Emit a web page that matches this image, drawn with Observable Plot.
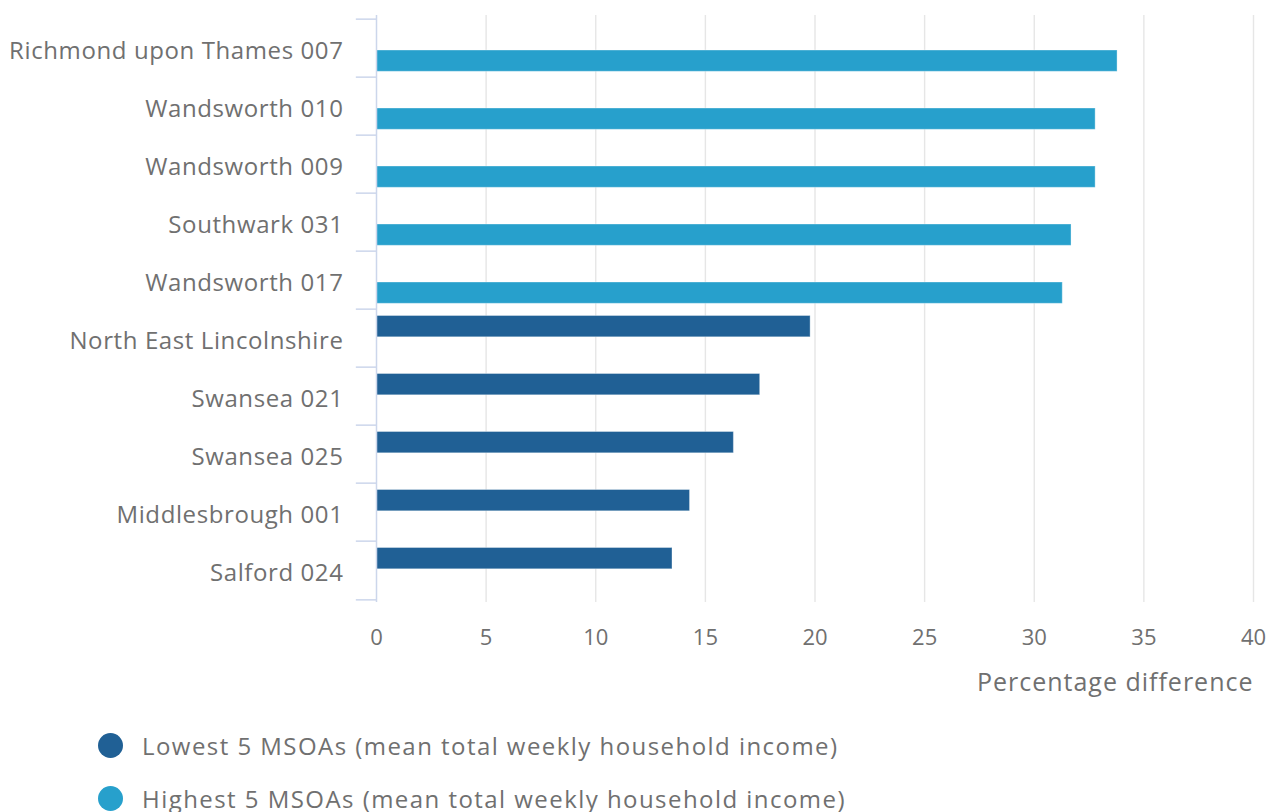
<!DOCTYPE html>
<html>
<head>
<meta charset="utf-8">
<script src="https://cdn.jsdelivr.net/npm/d3@7"></script>
<script src="https://cdn.jsdelivr.net/npm/@observablehq/plot@0.6"></script>
<style>
  html, body { margin: 0; padding: 0; background: #fff; }
  body { width: 1267px; height: 812px; overflow: hidden; font-family: "Open Sans", sans-serif; }
  #legend { position: absolute; left: 98px; top: 727px; font-size: 24px; letter-spacing: 1.45px; color: #707070; }
  .item { display: flex; align-items: center; height: 36px; margin-bottom: 17px; white-space: nowrap; }
  .sw { width: 25px; height: 25px; border-radius: 50%; margin-right: 19px; flex: none; }
  svg g[aria-label="y-axis tick label"] text { letter-spacing: 0.6px; }
  svg g[aria-label="text"] text { letter-spacing: 1px; }
</style>
</head>
<body>
<div id="chart"></div>
<div id="legend"></div>
<script>
const categories = [
  "Richmond upon Thames 007", "Wandsworth 010", "Wandsworth 009", "Southwark 031", "Wandsworth 017",
  "North East Lincolnshire", "Swansea 021", "Swansea 025", "Middlesbrough 001", "Salford 024"
];
const values = [33.8, 32.8, 32.8, 31.7, 31.3, 19.8, 17.5, 16.3, 14.3, 13.5];
const groups = ["Highest", "Highest", "Highest", "Highest", "Highest", "Lowest", "Lowest", "Lowest", "Lowest", "Lowest"];
const seriesNames = ["Lowest 5 MSOAs (mean total weekly household income)", "Highest 5 MSOAs (mean total weekly household income)"];
const seriesKeys = ["Lowest", "Highest"];
const seriesColors = ["#206095", "#27a0cc"];
const xTicks = [0, 5, 10, 15, 20, 25, 30, 35, 40];
const xTitle = "Percentage difference";

const rows = categories.map((c, i) => ({category: c, value: values[i], group: groups[i]}));

const W = 1267, H = 705;
const mTop = 15, mBottom = 103;
const step = (H - mTop - mBottom) / categories.length;
const textColor = "#707070";

const plot = Plot.plot({
  width: W,
  height: H,
  marginLeft: 376,
  marginRight: 14,
  marginTop: mTop,
  marginBottom: mBottom,
  style: {fontFamily: "'Open Sans', sans-serif", fontSize: "23px", color: textColor, background: "#fff"},
  x: {domain: [0, 40], ticks: xTicks},
  y: {domain: categories, padding: 0},
  color: {domain: seriesKeys, range: seriesColors},
  marks: [
    Plot.gridX(xTicks.filter(t => t > 0), {stroke: "#e6e6e6", strokeOpacity: 1, strokeWidth: 1.4}),
    Plot.barX(rows.filter(d => d.group === "Lowest"), {
      x: "value", y: "category", fill: "group",
      insetTop: 6.5, insetBottom: step - 28.5,
      stroke: "#fff", strokeOpacity: 0.35, strokeWidth: 1
    }),
    Plot.barX(rows.filter(d => d.group === "Highest"), {
      x: "value", y: "category", fill: "group",
      insetTop: 31, insetBottom: step - 53,
      stroke: "#fff", strokeOpacity: 0.35, strokeWidth: 1
    }),
    Plot.ruleX([0], {stroke: "#ccd6eb", strokeWidth: 1.5}),
    Plot.ruleY(categories, {y: d => d, x1: -0.92, x2: 0, dy: -step / 2, stroke: "#ccd6eb", strokeWidth: 1.5}),
    Plot.ruleY(categories.slice(-1), {y: d => d, x1: -0.92, x2: 0, dy: step / 2, stroke: "#ccd6eb", strokeWidth: 1.5}),
    Plot.axisY({tickSize: 0, tickPadding: 33, label: null, fill: textColor, dy: 3, fontSize: 24}),
    Plot.axisX({tickSize: 0, tickPadding: 27, label: null, fill: textColor, fontSize: 22}),
    Plot.text([xTitle], {text: d => d, frameAnchor: "bottom-right", textAnchor: "end", dy: 88, fill: textColor, fontSize: 25})
  ]
});
document.getElementById("chart").appendChild(plot);

const legend = document.getElementById("legend");
seriesNames.forEach((name, i) => {
  const item = document.createElement("div");
  item.className = "item";
  item.innerHTML = `<span class="sw" style="background:${seriesColors[i]}"></span><span>${name}</span>`;
  legend.appendChild(item);
});
</script>
</body>
</html>
